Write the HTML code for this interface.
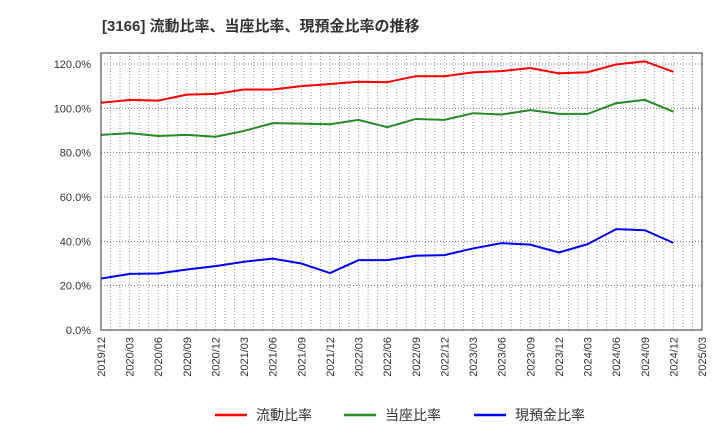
<!DOCTYPE html>
<html><head><meta charset="utf-8"><style>
body{margin:0;background:#fff;}
svg text{font-family:"Liberation Sans","Noto Sans CJK JP",sans-serif;}
</style></head><body>
<svg width="720" height="440" xmlns="http://www.w3.org/2000/svg" id="chart">
<text x="102" y="31" font-size="15" font-weight="bold" fill="#333">[3166]  流動比率、当座比率、現預金比率の推移</text>
<rect x="101" y="53" width="601" height="277" fill="#fff" stroke="none"/>
<g id="grid"></g><g id="axes"></g><g id="lines"></g>
<rect x="101" y="53" width="601" height="277" fill="none" stroke="#333" stroke-width="1"/>
<g>
<line x1="215" y1="415" x2="247" y2="415" stroke="#ff0000" stroke-width="2.5"/>
<text x="256" y="420" font-size="14" fill="#333">流動比率</text>
<line x1="344" y1="415" x2="376" y2="415" stroke="#228b22" stroke-width="2.5"/>
<text x="385" y="420" font-size="14" fill="#333">当座比率</text>
<line x1="474" y1="415" x2="506" y2="415" stroke="#0000ff" stroke-width="2.5"/>
<text x="515" y="420" font-size="14" fill="#333">現預金比率</text>
</g>
</svg>
<script>
const xLabels=["2019/12","2020/03","2020/06","2020/09","2020/12","2021/03","2021/06","2021/09","2021/12","2022/03","2022/06","2022/09","2022/12","2023/03","2023/06","2023/09","2023/12","2024/03","2024/06","2024/09","2024/12","2025/03"];
const yTicks=[0,20,40,60,80,100,120];
const currentRatio=[102.5,103.8,103.5,106.2,106.5,108.5,108.5,110,111,112,111.8,114.5,114.5,116.2,116.8,118.2,115.8,116.3,119.8,121.2,116.5];
const quickRatio=[88,88.8,87.5,88,87.2,89.8,93.3,93.1,92.8,94.8,91.5,95.2,94.8,97.8,97.2,99.2,97.5,97.5,102.3,103.8,98.5];
const cashRatio=[23.2,25.3,25.5,27.3,28.8,30.8,32.2,30,25.7,31.5,31.5,33.5,33.8,36.8,39.2,38.5,35,38.7,45.5,45,39.3];
const NS="http://www.w3.org/2000/svg";
const L=101,R=702,T=53,B=330;
const n=xLabels.length-1;
const xs=i=>L+(R-L)*i/n;
const ys=v=>B-(v/120)*(B-64);
function mk(tag,attrs,parent){const e=document.createElementNS(NS,tag);for(const k in attrs)e.setAttribute(k,attrs[k]);parent.appendChild(e);return e;}
const grid=document.getElementById('grid'),axes=document.getElementById('axes'),lines=document.getElementById('lines');
for(let m=1;m<n*3;m++){const x=L+(R-L)*m/(n*3);
const g=mk('line',{x1:x,x2:x,y1:T,y2:B,stroke:'#999','stroke-dasharray':'1,2','stroke-width':1},grid);

}
yTicks.forEach(v=>{const y=ys(v);
if(v>0){const g=mk('line',{x1:L,x2:R,y1:y,y2:y,stroke:'#777','stroke-dasharray':'1,2','stroke-width':1},grid);

}
const t=mk('text',{x:L-10,y:y+4,'text-anchor':'end','font-size':11,fill:'#333'},axes);t.textContent=v.toFixed(1)+'%';

});
xLabels.forEach((lab,i)=>{const x=xs(i);
const t=mk('text',{x:0,y:0,'text-anchor':'end','font-size':11,fill:'#333',transform:`translate(${x+4},${B+7}) rotate(-90)`},axes);t.textContent=lab;

});
[[currentRatio,'#ff0000','current-ratio-line'],[quickRatio,'#228b22','quick-ratio-line'],[cashRatio,'#0000ff','cash-ratio-line']].forEach(([d,c,nm])=>{
const p=mk('polyline',{points:d.map((v,i)=>xs(i)+','+ys(v)).join(' '),fill:'none',stroke:c,'stroke-width':2},lines);

});
</script>
</body></html>
